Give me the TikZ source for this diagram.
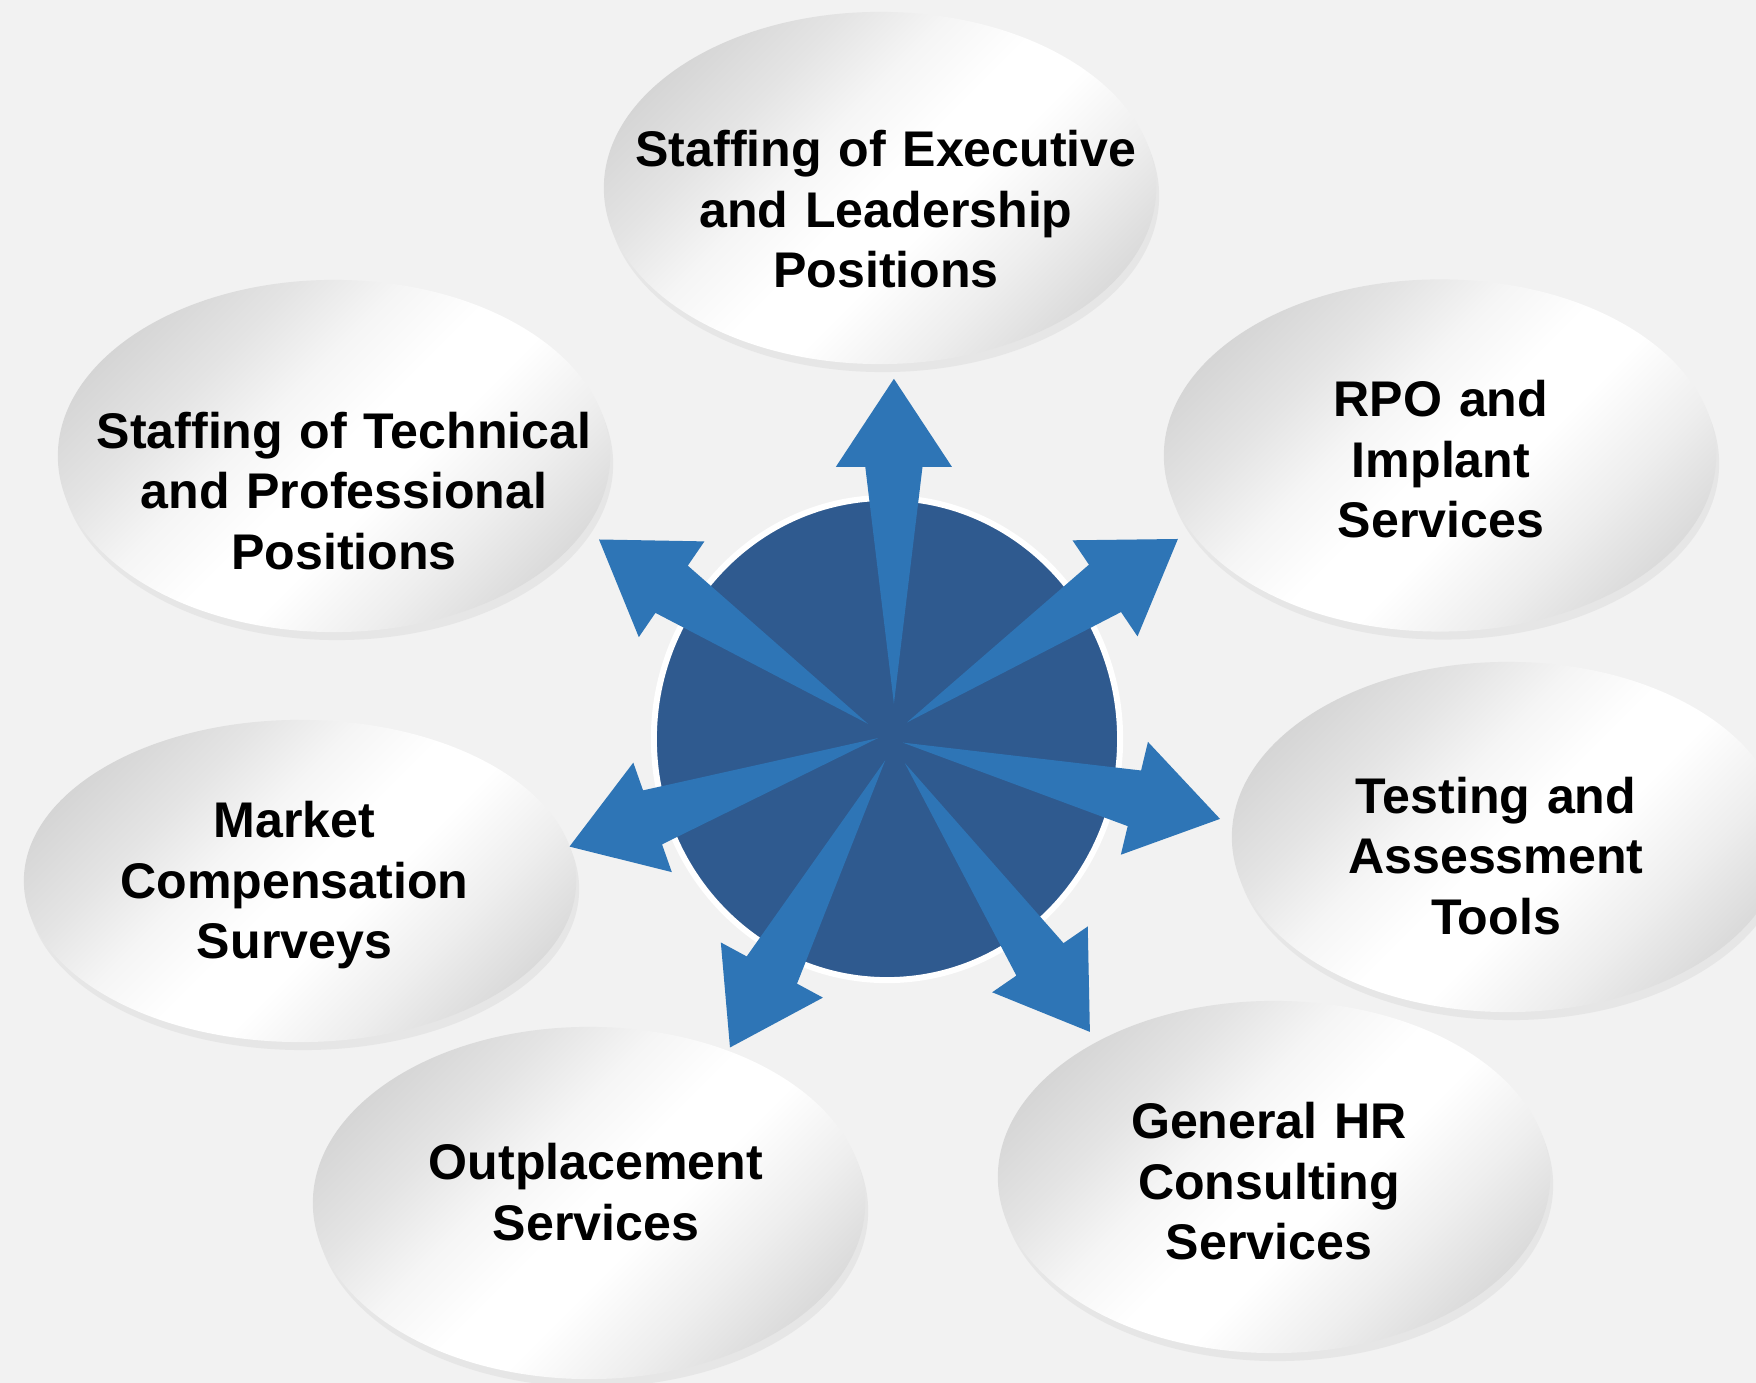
\documentclass[tikz,border=0pt]{standalone}
\usepackage{fontspec}
\setmainfont{Liberation Sans}
\usetikzlibrary{calc}
\definecolor{bg}{HTML}{F2F2F2}
\definecolor{arrowblue}{HTML}{2E75B6}
\definecolor{circblue}{HTML}{2F5A8F}
\definecolor{shadowc}{HTML}{E6E6E6}
\definecolor{sA}{HTML}{C8C8C8}
\definecolor{sB}{HTML}{D9D9D9}
\definecolor{sC}{HTML}{EEEEEE}
\definecolor{sD}{HTML}{F5F5F5}
\definecolor{sE}{HTML}{E4E4E4}
\definecolor{sF}{HTML}{D4D4D4}
\definecolor{sG}{HTML}{C9C9C9}
\pgfdeclareverticalshading{bubbleshade}{100bp}{color(0bp)=(sA); color(17bp)=(sA); color(23.7bp)=(sB); color(33.5bp)=(sC); color(43.4bp)=(white); color(50bp)=(white); color(58.2bp)=(sD); color(66.5bp)=(sE); color(76.3bp)=(sF); color(83bp)=(sG); color(100bp)=(sG)}
\newcommand{\radarrow}[3]{%
  \coordinate (#1-t) at #2;
  \coordinate (#1-p) at #3;
  \coordinate (#1-b) at ($(#1-p)!0.88cm!(#1-t)$);
  \fill[arrowfill] (#1-t) -- ($(#1-b)!0.286cm!90:(#1-p)$) -- ($(#1-b)!0.58cm!90:(#1-p)$) -- (#1-p)
     -- ($(#1-b)!0.58cm!-90:(#1-p)$) -- ($(#1-b)!0.286cm!-90:(#1-p)$) -- cycle;
}
\newcommand{\bubble}[2]{%
  \fill[shadowc] ($(#1)+(3,8)$) ellipse [x radius=2.76cm, y radius=#2];
  \path[shade, shading=bubbleshade, shading angle=45] (#1) ellipse [x radius=2.76cm, y radius=#2];
}
\begin{document}
\begin{tikzpicture}[x=0.01cm, y=-0.01cm,
  arrowfill/.style={fill=arrowblue},
  lbl/.style={font=\fontsize{14.25}{17.2}\selectfont\bfseries, align=center, text width=6cm, inner sep=0pt, anchor=base, text=black}]
\useasboundingbox (0,0) rectangle (1756,1383);
\clip (0,0) rectangle (1756,1383);
\fill[bg] (0,0) rectangle (1756,1383);
% ellipse centres
\coordinate (e1) at (880,188);
\coordinate (e2) at (334,456);
\coordinate (e3) at (1440,455.5);
\coordinate (e4) at (1508,837);
\coordinate (e5) at (1274,1177);
\coordinate (e6) at (589,1203);
\coordinate (e7) at (300,881);
\bubble{e1}{1.76cm}
\bubble{e2}{1.76cm}
\bubble{e3}{1.76cm}
\bubble{e4}{1.75cm}
\bubble{e5}{1.76cm}
\bubble{e6}{1.76cm}
\bubble{e7}{1.61cm}
% centre disc
\coordinate (c) at (887,739);
\fill[circblue, draw=white, line width=0.06cm] (c) ellipse [x radius=2.33cm, y radius=2.41cm];
% arrows
\radarrow{a1}{(893.9,703.8)}{(893.9,378.8)}
\radarrow{a2}{(906.9,722.5)}{(1177.9,539.0)}
\radarrow{a3}{(867.9,723.8)}{(599.0,539.5)}
\radarrow{a4}{(902.6,742.6)}{(1220.0,818.9)}
\radarrow{a5}{(877.9,738.1)}{(569.5,846.6)}
\radarrow{a6}{(885.2,760.4)}{(730.0,1047.5)}
\radarrow{a7}{(904.8,763.1)}{(1089.9,1031.9)}
% labels
\node[lbl] (t1) at (886,166.7) {Staffing of Executive\\and Leadership\\Positions};
\node[lbl] (t2) at (344,448.3) {Staffing of Technical\\and Professional\\Positions};
\node[lbl] (t3) at (1441,416.7) {RPO and\\Implant\\Services};
\node[lbl] (t4) at (1496,813.3) {Testing and\\Assessment\\Tools};
\node[lbl] (t5) at (1269,1139) {General HR\\Consulting\\Services};
\node[lbl] (t6) at (596,1180) {Outplacement\\Services};
\node[lbl] (t7) at (294.5,838) {Market\\Compensation\\Surveys};
\end{tikzpicture}
\end{document}
